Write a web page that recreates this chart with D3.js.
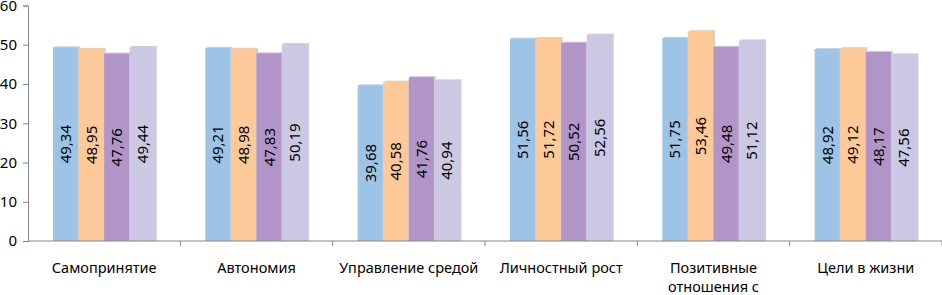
<!DOCTYPE html>
<html>
<head>
<meta charset="utf-8">
<script src="https://cdn.jsdelivr.net/npm/d3@7"></script>
<style>
  body { margin: 0; background: #fff; }
  svg { display: block; font-family: "Noto Sans", "Open Sans", sans-serif; }
</style>
</head>
<body>
<svg id="chart" width="942" height="295"></svg>
<script>
const categories = ["Самопринятие", "Автономия", "Управление средой", "Личностный рост", "Позитивные\nотношения с", "Цели в жизни"];
const series1 = [49.34, 49.21, 39.68, 51.56, 51.75, 48.92];
const series2 = [48.95, 48.98, 40.58, 51.72, 53.46, 49.12];
const series3 = [47.76, 47.83, 41.76, 50.52, 49.48, 48.17];
const series4 = [49.44, 50.19, 40.94, 52.56, 51.12, 47.56];
const seriesNames = ["s1", "s2", "s3", "s4"];
const colors = ["#9dc3e6", "#fdc998", "#b295c8", "#cbc8e4"];
const yTicks = [0, 10, 20, 30, 40, 50, 60];

const allSeries = [series1, series2, series3, series4];

const svg = d3.select("#chart"),
      plotLeft = 28, plotRight = 942, plotTop = 5.5, plotBottom = 241;

const x = d3.scaleBand()
            .domain(categories)
            .range([plotLeft, plotRight])
            .paddingInner(0)
            .paddingOuter(0);

const groupPad = 25;
const xs = d3.scaleBand()
             .domain(seriesNames)
             .range([groupPad, x.bandwidth() - groupPad])
             .padding(0);

const y = d3.scaleLinear()
            .domain([0, 60])
            .range([plotBottom, plotTop]);

const fmt = v => d3.format(".2f")(v).replace(".", ",");

// Bars
const groups = svg.append("g")
  .selectAll("g")
  .data(categories)
  .join("g")
  .attr("transform", d => `translate(${x(d)},0)`);

groups.each(function(cat, ci) {
  const g = d3.select(this);
  const rows = allSeries.map((s, si) => ({name: seriesNames[si], value: s[ci], color: colors[si]}));

  // soft shadow on the right / top
  g.selectAll("rect.shadow")
    .data(rows)
    .join("rect")
    .attr("class", "shadow")
    .attr("x", d => xs(d.name) + 1.5)
    .attr("y", d => y(d.value) - 1)
    .attr("width", xs.bandwidth())
    .attr("height", d => plotBottom - y(d.value) + 1)
    .attr("fill", "#b0b0b0")
    .attr("opacity", 0.6);

  g.selectAll("rect.bar")
    .data(rows)
    .join("rect")
    .attr("class", "bar")
    .attr("x", d => xs(d.name))
    .attr("y", d => y(d.value))
    .attr("width", xs.bandwidth() - 0.5)
    .attr("height", d => plotBottom - y(d.value))
    .attr("fill", d => d.color);

  g.selectAll("text.val")
    .data(rows)
    .join("text")
    .attr("class", "val")
    .attr("transform", d => `translate(${xs(d.name) + xs.bandwidth() / 2},${(y(d.value) + plotBottom) / 2}) rotate(-90)`)
    .attr("text-anchor", "middle")
    .attr("dy", "0.35em")
    .attr("font-size", 15)
    .attr("fill", "#000")
    .text(d => fmt(d.value));
});

// Y axis
const yAxis = svg.append("g")
  .attr("transform", `translate(${plotLeft},0)`)
  .call(d3.axisLeft(y).tickValues(yTicks).tickSize(5).tickPadding(6));
yAxis.select(".domain").attr("stroke", "#868686");
yAxis.selectAll(".tick line").attr("stroke", "#868686");
yAxis.selectAll(".tick text")
  .attr("font-size", 15)
  .attr("font-family", "Noto Sans, sans-serif")
  .attr("fill", "#000");

// X axis
const xAxis = svg.append("g")
  .attr("transform", `translate(0,${plotBottom})`);
xAxis.append("line")
  .attr("x1", plotLeft).attr("x2", plotRight)
  .attr("stroke", "#868686");
xAxis.selectAll("line.tick")
  .data(categories)
  .join("line")
  .attr("class", "tick")
  .attr("x1", d => x(d) + x.step())
  .attr("x2", d => x(d) + x.step())
  .attr("y1", 0).attr("y2", 5)
  .attr("stroke", "#868686");

const labels = xAxis.selectAll("text")
  .data(categories)
  .join("text")
  .attr("x", d => x(d) + x.bandwidth() / 2)
  .attr("y", 32)
  .attr("text-anchor", "middle")
  .attr("font-size", 14.5)
  .attr("fill", "#000");
labels.each(function(d) {
  const t = d3.select(this);
  d.split("\n").forEach((line, i) => {
    t.append("tspan")
      .attr("x", x(d) + x.bandwidth() / 2)
      .attr("dy", i === 0 ? 0 : 19)
      .text(line);
  });
});
</script>
</body>
</html>
